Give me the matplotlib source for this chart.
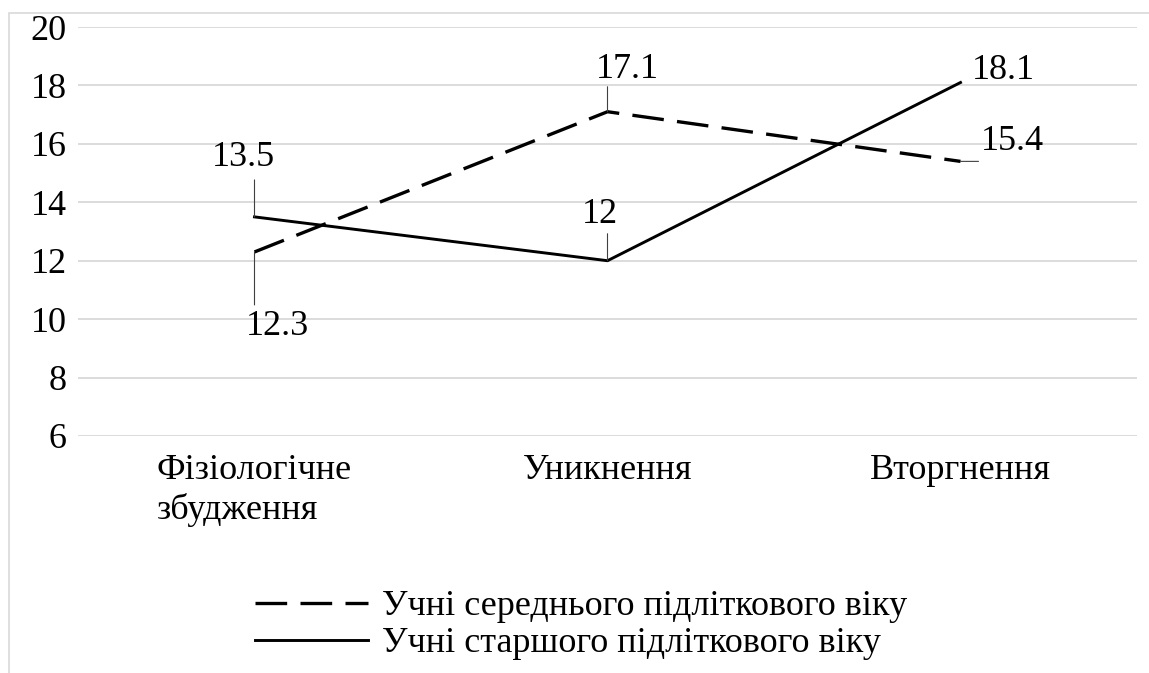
import matplotlib
matplotlib.use("Agg")
import matplotlib.pyplot as plt
from matplotlib.patches import Rectangle

FONT = "Liberation Serif"
plt.rcParams["font.family"] = FONT
plt.rcParams["font.serif"] = [FONT, "DejaVu Serif"]

categories = ["Фізіологічне\nзбудження", "Уникнення", "Вторгнення"]
middle_label = "Учні середнього підліткового віку"
middle_values = [12.3, 17.1, 15.4]
senior_label = "Учні старшого підліткового віку"
senior_values = [13.5, 12, 18.1]
y_ticks = [6, 8, 10, 12, 14, 16, 18, 20]

# label offsets (pixels) from each point, and leader-line tip offsets
middle_text_off = [(23, -75), (20, 42), (52, 20)]
middle_leader = [(0, -53), (0, 25), (18, 0)]
senior_text_off = [(-11, 59), (-8, 46), (43, 12)]
senior_leader = [(0, 37), (0, 27), None]

FS = 26
DPI = 100

fig = plt.figure(figsize=(11.49, 6.73), dpi=DPI)
ax = fig.add_axes([78 / 1149, 1 - 436 / 673, 1059 / 1149, 409 / 673])

fig.patches.append(Rectangle((9 / 1149, -0.5), 1.5, 0.5 + 1 - 13 / 673,
                             transform=fig.transFigure, fill=False,
                             edgecolor="#d9d9d9", linewidth=1.2, zorder=0))

x = list(range(len(categories)))
ax.plot(x, middle_values, color="black", linewidth=2.4, dashes=(9.5, 4),
        label=middle_label, zorder=3)
ax.plot(x, senior_values, color="black", linewidth=2.1, label=senior_label,
        zorder=3)


def label_points(values, text_offs, leaders):
    for xi, v, toff, lead in zip(x, values, text_offs, leaders):
        if lead is not None:
            ax.annotate("", xy=(xi, v), xytext=lead, textcoords="offset pixels",
                        arrowprops=dict(arrowstyle="-", color="#404040", lw=0.8,
                                        shrinkA=0, shrinkB=0))
        ax.annotate(f"{v:g}", xy=(xi, v), xytext=toff, textcoords="offset pixels",
                    ha="center", va="center", fontsize=FS, family=FONT)


label_points(middle_values, middle_text_off, middle_leader)
label_points(senior_values, senior_text_off, senior_leader)

ax.set_xlim(-0.5, len(categories) - 0.5)
ax.set_ylim(6, 20)
ax.set_yticks(y_ticks)
ax.set_yticklabels([str(t) for t in y_ticks], fontsize=FS, family=FONT)
ax.set_xticks(x)
ax.set_xticklabels(categories, fontsize=FS, family=FONT, linespacing=1.22,
                   multialignment="left")
ax.tick_params(axis="y", length=0, pad=8)
ax.tick_params(axis="x", length=0, pad=13)
ax.grid(True, axis="y", color="#d9d9d9", linewidth=1.3)
ax.set_axisbelow(True)
for s in ax.spines.values():
    s.set_visible(False)

fig.legend(loc="upper left", bbox_to_anchor=(255 / 1149, 1 - 590 / 673),
           frameon=False, prop={"family": FONT, "size": FS}, handlelength=3.13,
           handletextpad=0.38, labelspacing=0.1, borderpad=0, borderaxespad=0)

fig.savefig("out.png", dpi=DPI)
